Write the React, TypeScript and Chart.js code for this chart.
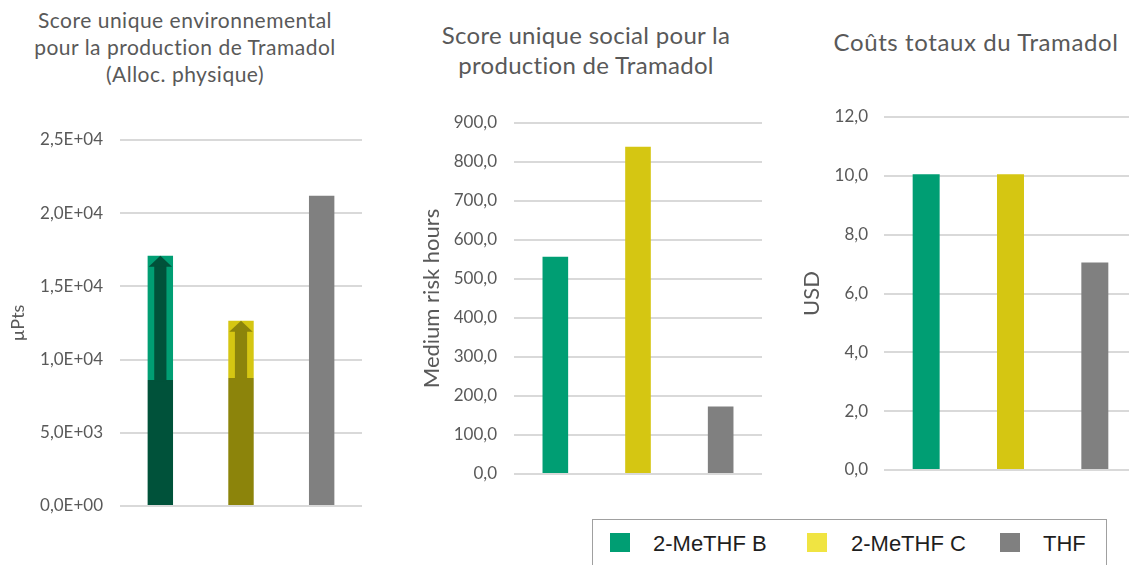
import React, { useEffect, useRef } from "react";
import { Chart, registerables } from "chart.js";

Chart.register(...registerables);

// ---------- data ----------
const categories = ["2-MeTHF B", "2-MeTHF C", "THF"];
const envTotal = [17100, 12650, 21200];
const envBase = [8600, 8750, 21200];
const socialValues = [557, 839, 173];
const costValues = [10.05, 10.05, 7.05];

const barColors = ["#009E73", "#D5C612", "#808080"];
const darkColors = ["#00523A", "#8C840B", "#808080"];
const legendColors = ["#009E73", "#F0E442", "#808080"];

const envTitle = ["Score unique environnemental", "pour la production de Tramadol", "(Alloc. physique)"];
const socialTitle = ["Score unique social pour la", "production de Tramadol"];
const costTitle = ["Coûts totaux du Tramadol"];

const FONT = "Lato, 'Open Sans', sans-serif";
const TEXT = "#595959";
const GRID = "#D9D9D9";

const fmtExp = (v: number) => {
  const s = Number(v).toExponential(1);
  const [m, e] = s.split("e");
  const sign = e[0];
  const d = e.slice(1).padStart(2, "0");
  return m.replace(".", ",") + "E" + sign + d;
};
const fmtFixed = (v: number) => Number(v).toFixed(1).replace(".", ",");

const arrowPlugin = {
  id: "arrowPlugin",
  afterDatasetsDraw(chart: any) {
    const meta = chart.getDatasetMeta(1);
    const ctx = chart.ctx;
    meta.data.forEach((bar: any, i: number) => {
      const inc = chart.data.datasets[1].data[i];
      if (!inc || inc <= 0) return;
      const { x, y, base, width } = bar.getProps(["x", "y", "base", "width"], true);
      const headH = 11;
      const shaftW = width * 0.48;
      ctx.save();
      ctx.fillStyle = darkColors[i];
      ctx.fillRect(x - shaftW / 2, y + headH - 1, shaftW, base - (y + headH) + 2);
      ctx.beginPath();
      ctx.moveTo(x, y);
      ctx.lineTo(x + width / 2 - 1, y + headH);
      ctx.lineTo(x - width / 2 + 1, y + headH);
      ctx.closePath();
      ctx.fill();
      ctx.restore();
    });
  },
};

function yScale(opts: {
  max: number;
  step: number;
  fmt: (v: number) => string;
  axisWidth: number;
  tickPad: number;
  title: string;
  titleSize: number;
  titlePad: number;
}) {
  return {
    min: 0,
    max: opts.max,
    border: { display: false },
    grid: { color: GRID, lineWidth: 2, drawTicks: false },
    ticks: {
      stepSize: opts.step,
      padding: opts.tickPad,
      color: TEXT,
      font: { family: FONT, size: 17 },
      callback: (v: any) => opts.fmt(Number(v)),
    },
    title: {
      display: true,
      text: opts.title,
      color: TEXT,
      font: { family: FONT, size: opts.titleSize },
      padding: { top: opts.titlePad, bottom: 0 },
    },
    afterFit: (s: any) => {
      s.width = opts.axisWidth;
    },
  };
}

function useChart(ref: React.RefObject<HTMLCanvasElement>, build: () => any) {
  useEffect(() => {
    if (!ref.current) return;
    const chart = new Chart(ref.current, build());
    return () => chart.destroy();
  }, []);
}

export default function App() {
  const envRef = useRef<HTMLCanvasElement>(null);
  const socRef = useRef<HTMLCanvasElement>(null);
  const costRef = useRef<HTMLCanvasElement>(null);

  useChart(envRef, () => ({
    type: "bar",
    data: {
      labels: categories,
      datasets: [
        {
          label: "base",
          data: envBase,
          backgroundColor: darkColors,
          barPercentage: 0.315,
          categoryPercentage: 1,
        },
        {
          label: "increment",
          data: envTotal.map((t, i) => t - envBase[i]),
          backgroundColor: barColors,
          barPercentage: 0.315,
          categoryPercentage: 1,
        },
      ],
    },
    options: {
      responsive: false,
      animation: false,
      layout: { padding: { top: 140, bottom: 59, left: 0, right: 18 } },
      plugins: { legend: { display: false }, tooltip: { enabled: false } },
      scales: {
        x: { display: false, stacked: true },
        y: {
          stacked: true,
          ...yScale({
            max: 25000,
            step: 5000,
            fmt: fmtExp,
            axisWidth: 120,
            tickPad: 17,
            title: "µPts",
            titleSize: 18,
            titlePad: 7,
          }),
        },
      },
    },
    plugins: [arrowPlugin],
  }));

  useChart(socRef, () => ({
    type: "bar",
    data: {
      labels: categories,
      datasets: [
        {
          label: "social",
          data: socialValues,
          backgroundColor: barColors,
          barPercentage: 0.31,
          categoryPercentage: 1,
        },
      ],
    },
    options: {
      responsive: false,
      animation: false,
      layout: { padding: { top: 123, bottom: 91, left: 0, right: 18 } },
      plugins: { legend: { display: false }, tooltip: { enabled: false } },
      scales: {
        x: { display: false },
        y: yScale({
          max: 900,
          step: 100,
          fmt: fmtFixed,
          axisWidth: 134,
          tickPad: 17,
          title: "Medium risk hours",
          titleSize: 22,
          titlePad: 39,
        }),
      },
    },
  }));

  useChart(costRef, () => ({
    type: "bar",
    data: {
      labels: categories,
      datasets: [
        {
          label: "cost",
          data: costValues,
          backgroundColor: barColors,
          barPercentage: 0.32,
          categoryPercentage: 1,
        },
      ],
    },
    options: {
      responsive: false,
      animation: false,
      layout: { padding: { top: 117, bottom: 95, left: 0, right: 23 } },
      plugins: { legend: { display: false }, tooltip: { enabled: false } },
      scales: {
        x: { display: false },
        y: yScale({
          max: 12,
          step: 2,
          fmt: fmtFixed,
          axisWidth: 124,
          tickPad: 16,
          title: "USD",
          titleSize: 22,
          titlePad: 39,
        }),
      },
    },
  }));

  const abs = (l: number, t: number, w: number, h: number): React.CSSProperties => ({
    position: "absolute",
    left: l,
    top: t,
    width: w,
    height: h,
  });

  const titleStyle = (cx: number, top: number, size: number, lh: number, ls: number): React.CSSProperties => ({
    position: "absolute",
    left: cx - 250,
    top,
    width: 500,
    textAlign: "center",
    fontFamily: FONT,
    fontSize: size,
    lineHeight: lh + "px",
    letterSpacing: ls + "px",
    color: TEXT,
    whiteSpace: "nowrap",
  });

  const legendItems = [
    { sq: 610, tx: 653 },
    { sq: 807, tx: 851 },
    { sq: 1000, tx: 1043 },
  ];

  return (
    <div
      style={{
        position: "fixed",
        left: 0,
        top: 0,
        width: 1129,
        height: 565,
        overflow: "hidden",
        background: "#ffffff",
      }}
    >
      <div style={titleStyle(185, 6, 21, 27, 0.5)}>
        {envTitle.map((t) => (
          <div key={t}>{t}</div>
        ))}
      </div>
      <div style={titleStyle(586, 20, 24, 30, 0.3)}>
        {socialTitle.map((t) => (
          <div key={t}>{t}</div>
        ))}
      </div>
      <div style={titleStyle(976, 27, 24, 30, 0.6)}>
        {costTitle.map((t) => (
          <div key={t}>{t}</div>
        ))}
      </div>

      <div style={abs(0, 0, 380, 565)}>
        <canvas ref={envRef} width={380} height={565} style={{ width: 380, height: 565 }} />
      </div>
      <div style={abs(380, 0, 400, 565)}>
        <canvas ref={socRef} width={400} height={565} style={{ width: 400, height: 565 }} />
      </div>
      <div style={abs(760, 0, 400, 565)}>
        <canvas ref={costRef} width={400} height={565} style={{ width: 400, height: 565 }} />
      </div>

      <div
        style={{
          position: "absolute",
          left: 592,
          top: 519,
          width: 515,
          height: 80,
          border: "1px solid #A0A0A0",
          boxSizing: "border-box",
          background: "#ffffff",
        }}
      />
      {categories.map((c, i) => (
        <React.Fragment key={c}>
          <div style={{ ...abs(legendItems[i].sq, 533, 20, 19), background: legendColors[i] }} />
          <div
            style={{
              position: "absolute",
              left: legendItems[i].tx,
              top: 533,
              fontFamily: "'Liberation Sans', Arial, sans-serif",
              fontSize: 22,
              lineHeight: "22px",
              color: "#1E1E1E",
              whiteSpace: "pre",
            }}
          >
            {c}
          </div>
        </React.Fragment>
      ))}
    </div>
  );
}
